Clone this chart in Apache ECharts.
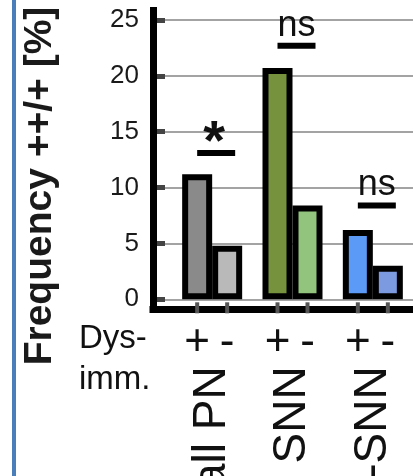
<!DOCTYPE html>
<html>
<head>
<meta charset="utf-8">
<script src="https://cdn.jsdelivr.net/npm/echarts@6/dist/echarts.min.js"></script>
<style>
html,body{margin:0;padding:0;background:#fff;}
#chart{width:413px;height:476px;}
</style>
</head>
<body>
<div id="chart"></div>
<script>
// ---- data ----
const groups = ['all PN', 'SNN', 'non-SNN'];
const plusValues = [11.2, 20.7, 6.2];
const minusValues = [4.8, 8.4, 3.0];
const plusColors = ['#8a8a8a', '#76923c', '#5b9bf7'];
const minusColors = ['#b9b9b9', '#93c47d', '#7b9ae0'];
const sigLabels = ['*', 'ns', 'ns'];
const sigLevels = [13.1, 22.7, 8.4];
const yMin = 0, yMax = 25, yStep = 5;
const dysLabels = ['+', '-'];

const FONT = 'Liberation Sans, Arial, Helvetica, sans-serif';
const chart = echarts.init(document.getElementById('chart'), null, {renderer: 'canvas'});

const option = {
  animation: false,
  backgroundColor: '#fff',
  textStyle: {fontFamily: FONT},
  title: {
    text: 'Dys-\nimm.',
    left: 79, top: 318, padding: 0,
    textStyle: {fontFamily: FONT, fontSize: 33, fontWeight: 'normal', lineHeight: 41, color: '#111'}
  },
  graphic: [
    {type: 'rect', left: 12, top: 0, shape: {width: 4, height: 476}, style: {fill: '#4a7ebb'}},
    {type: 'text', x: 40, y: 186, rotation: Math.PI / 2,
     style: {text: 'Frequency ++/+ [%]', font: 'bold 39px ' + FONT, fill: '#1a1a1a', align: 'center', verticalAlign: 'middle'}}
  ],
  grid: [
    {left: 153, right: 0, top: 10.5, bottom: 166.5, containLabel: false, outerBoundsMode: 'none'},   // frame
    {left: 153, right: 0, top: 20, bottom: 176.7, containLabel: false, outerBoundsMode: 'none'},     // y scale
    {left: 172, right: 0, top: 20, bottom: 176.7, containLabel: false, outerBoundsMode: 'none'}      // bars
  ],
  xAxis: [
    {gridIndex: 0, type: 'value', min: 0, max: 1, z: 5,
     axisLine: {show: true, lineStyle: {color: '#000', width: 7, cap: 'square'}},
     axisTick: {show: false}, axisLabel: {show: false}, splitLine: {show: false}},
    {gridIndex: 1, type: 'value', min: 0, max: 1, show: false},
    {gridIndex: 2, type: 'category', data: groups,
     axisLine: {show: false}, axisTick: {show: false},
     axisLabel: {interval: 0, rotate: 90, margin: 67, fontSize: 46, color: '#111', fontFamily: FONT},
     splitLine: {show: false}}
  ],
  yAxis: [
    {gridIndex: 0, type: 'value', min: 0, max: 1, z: 5,
     axisLine: {show: true, lineStyle: {color: '#000', width: 7, cap: 'square'}},
     axisTick: {show: false}, axisLabel: {show: false}, splitLine: {show: false}},
    {gridIndex: 1, type: 'value', min: yMin, max: yMax, interval: yStep,
     axisLine: {show: false},
     axisTick: {show: true, inside: true, length: 12, lineStyle: {color: '#444', width: 5}},
     axisLabel: {margin: 14, fontSize: 26, color: '#1a1a1a', fontFamily: FONT},
     splitLine: {show: true, lineStyle: {color: '#a3a3a3', width: 2}}},
    {gridIndex: 2, type: 'value', min: yMin, max: yMax, show: false}
  ],
  series: [
    {
      type: 'bar', xAxisIndex: 2, yAxisIndex: 2, barWidth: 30, barGap: '0%', z: 3,
      data: plusValues.map((v, i) => ({value: v, itemStyle: {color: plusColors[i]}})),
      itemStyle: {borderColor: '#000', borderWidth: 6},
      label: {show: true, position: 'bottom', distance: 22, formatter: dysLabels[0],
              fontSize: 44, color: '#111', fontFamily: FONT},
      emphasis: {disabled: true}
    },
    {
      type: 'bar', xAxisIndex: 2, yAxisIndex: 2, barWidth: 30, barGap: '0%', z: 3,
      data: minusValues.map((v, i) => ({value: v, itemStyle: {color: minusColors[i]}})),
      itemStyle: {borderColor: '#000', borderWidth: 6},
      label: {show: true, position: 'bottom', distance: 22, formatter: dysLabels[1],
              fontSize: 44, color: '#111', fontFamily: FONT},
      emphasis: {disabled: true}
    },
    {
      type: 'custom', xAxisIndex: 2, yAxisIndex: 2, z: 10,
      data: sigLevels.map((v, i) => [i, v]),
      renderItem: function (params, api) {
        const i = api.value(0);
        const p = api.coord([i, api.value(1)]);
        const base = api.coord([i, 0]);
        const dx = 4;
        const star = sigLabels[i] === '*';
        return {
          type: 'group',
          children: [
            {type: 'rect', shape: {x: p[0] + dx - 19, y: p[1] - 3, width: 38, height: 6}, style: {fill: '#000'}},
            {type: 'text', x: p[0] + dx - (star ? 2 : 0), y: p[1] - (star ? 9 : 20),
             style: {text: sigLabels[i], fill: '#111', align: 'center', verticalAlign: 'middle',
                     font: (star ? 'bold 56px ' : '36px ') + FONT}},
            {type: 'rect', shape: {x: base[0] - 17, y: base[1] + 3, width: 4, height: 11}, style: {fill: '#555'}},
            {type: 'rect', shape: {x: base[0] + 13, y: base[1] + 3, width: 4, height: 11}, style: {fill: '#555'}}
          ]
        };
      }
    }
  ]
};
chart.setOption(option);
</script>
</body>
</html>
